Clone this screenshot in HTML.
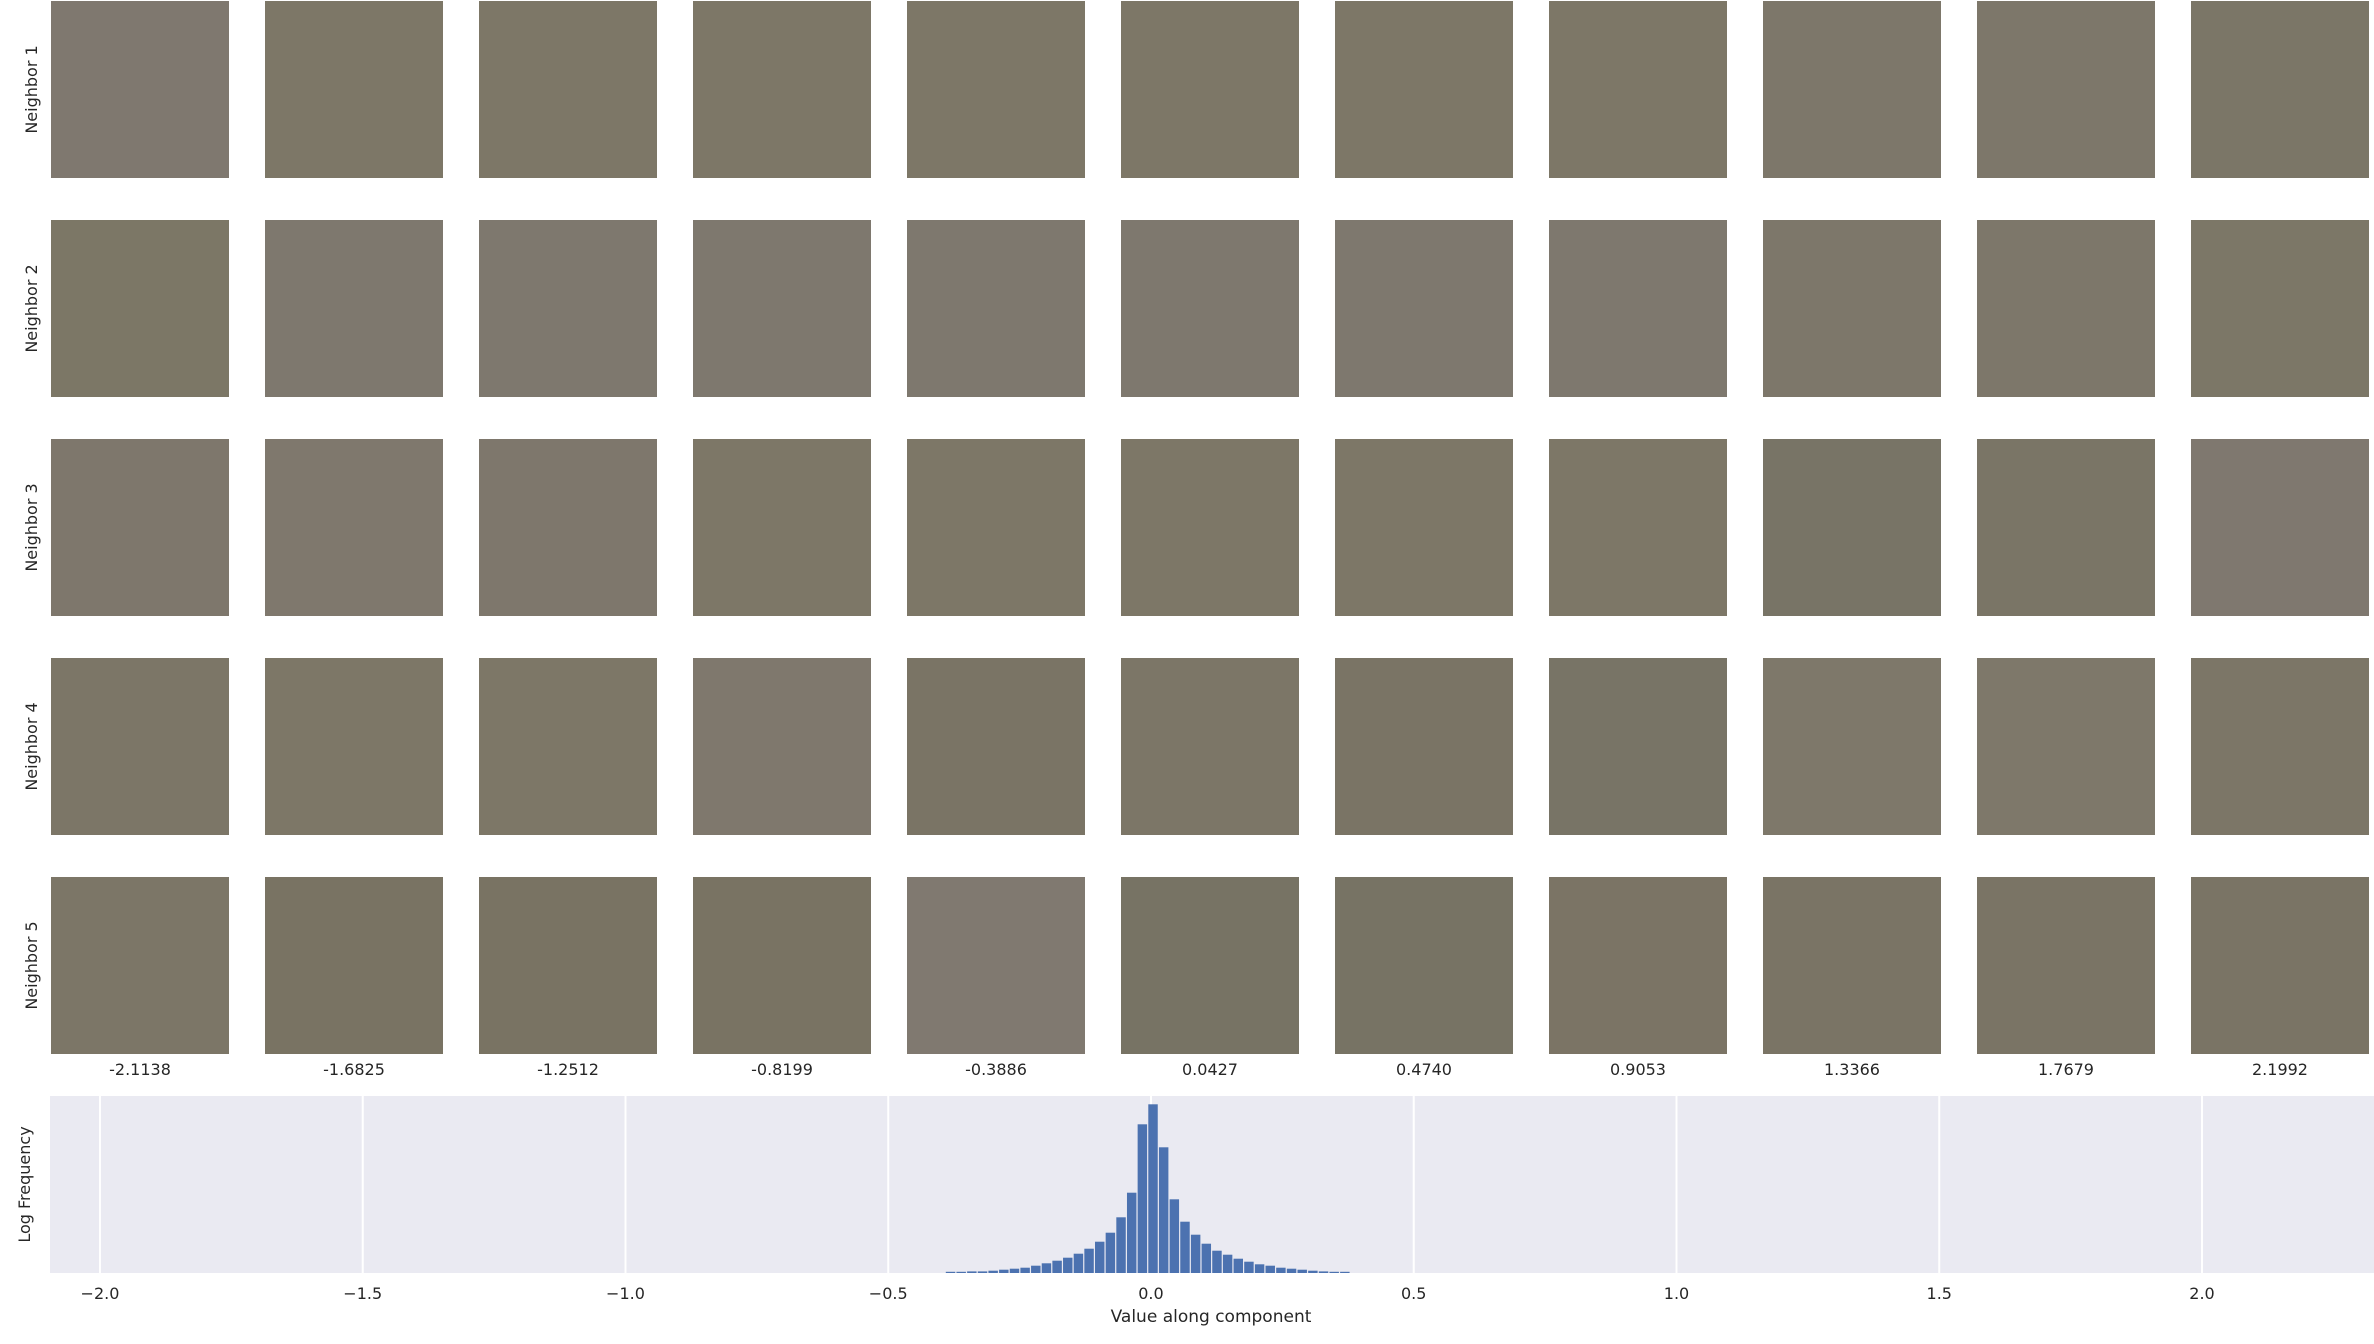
<!DOCTYPE html>
<html><head><meta charset="utf-8">
<style>
html,body{margin:0;padding:0;background:#fff;}
body{width:2374px;height:1344px;position:relative;overflow:hidden;font-family:"DejaVu Sans","Liberation Sans",sans-serif;}
svg{position:absolute;left:0;top:0;}
</style></head>
<body>
<svg id="fig" width="2374" height="1344" xmlns="http://www.w3.org/2000/svg" font-family="DejaVu Sans, Liberation Sans, sans-serif"></svg>
<script>
const colValues = ["-2.1138","-1.6825","-1.2512","-0.8199","-0.3886","0.0427","0.4740","0.9053","1.3366","1.7679","2.1992"];
const rowLabels = ["Neighbor 1","Neighbor 2","Neighbor 3","Neighbor 4","Neighbor 5"];
const tileColors = [
 ["#7f786f","#7d7767","#7d7767","#7d7767","#7d7767","#7d7767","#7d7767","#7d7767","#7d776a","#7d776a","#7b7667"],
 ["#7c7766","#7e786e","#7e786e","#7e786e","#7e786e","#7e786e","#7e786e","#7e786e","#7d776a","#7d776a","#7c7767"],
 ["#7e776c","#7f786d","#7e776c","#7d7767","#7d7767","#7d7767","#7d7767","#7d7767","#787466","#7a7566","#7f786f"],
 ["#7c7667","#7d7767","#7d7767","#7f786d","#7a7465","#7c7667","#7a7465","#787466","#7e786a","#7e786a","#7c7667"],
 ["#7c7667","#797363","#797363","#797363","#807970","#777364","#777364","#7b7465","#7a7465","#7a7465","#7a7465"]
];
const binStart = -0.3916;
const binWidth = 0.02028;
const binHeights = [1.2,1.2,1.6,1.6,2.3,3.3,4.3,5.3,7.3,9.7,12.3,15.3,19.3,24.3,31.3,40.3,55.7,80.3,148.7,168.7,125.7,73.7,51.3,38.3,29.3,22.3,18.3,14.3,11.3,8.7,7.3,5.3,4.3,3.3,2.3,1.6,1.2,1.2];
const xTicks = [-2.0,-1.5,-1.0,-0.5,0.0,0.5,1.0,1.5,2.0];
const xTickLabels = ["\u22122.0","\u22121.5","\u22121.0","\u22120.5","0.0","0.5","1.0","1.5","2.0"];

const NS="http://www.w3.org/2000/svg";
const svg=document.getElementById('fig');
function mk(tag,attrs,parent){const e=document.createElementNS(NS,tag);for(const k in attrs)e.setAttribute(k,attrs[k]);(parent||svg).appendChild(e);return e;}

const tileX0=51, tileY0=1, tileW=178, tileH=177, pitchX=214, pitchY=219;
for(let r=0;r<rowLabels.length;r++){
  const lab=mk('text',{x:0,y:0,'font-size':16,fill:'#262626','text-anchor':'middle',transform:`translate(37,${tileY0+r*pitchY+tileH/2}) rotate(-90)`});
  
  
  lab.textContent=rowLabels[r];
  for(let c=0;c<colValues.length;c++){
    const t=mk('rect',{x:tileX0+c*pitchX,y:tileY0+r*pitchY,width:tileW,height:tileH,fill:tileColors[r][c]});
    
    
  }
}
for(let c=0;c<colValues.length;c++){
  const t=mk('text',{x:tileX0+c*pitchX+tileW/2,y:1075,'font-size':16,fill:'#262626','text-anchor':'middle'});
  
  
  t.textContent=colValues[c];
}

const axL=50, axR=2374, axT=1096, axB=1273;
const xMin=-2.0951, xMax=2.3273, yMax=177;
const xs=v=>axL+(v-xMin)/(xMax-xMin)*(axR-axL);
const ys=v=>axB-(v/yMax)*(axB-axT);
const bg=mk('rect',{x:axL,y:axT,width:axR-axL,height:axB-axT,fill:'#eaeaf2'});


xTicks.forEach((v,i)=>{
  const g=mk('line',{x1:xs(v),x2:xs(v),y1:axT,y2:axB,stroke:'#fff','stroke-width':2});
  
  
  const t=mk('text',{x:xs(v),y:1299,'font-size':16,fill:'#262626','text-anchor':'middle'});
  
  
  t.textContent=xTickLabels[i];
});
binHeights.forEach((h,i)=>{
  const x0=xs(binStart+i*binWidth), x1=xs(binStart+(i+1)*binWidth);
  const b=mk('rect',{x:x0+0.6,y:ys(h),width:x1-x0-1.2,height:axB-ys(h),fill:'#4c72b0'});
  
  
});
const xl=mk('text',{x:1211,y:1322,'font-size':17,fill:'#262626','text-anchor':'middle'});


xl.textContent='Value along component';
const yl=mk('text',{x:0,y:0,'font-size':16,fill:'#262626','text-anchor':'middle',transform:`translate(30,${(axT+axB)/2}) rotate(-90)`});


yl.textContent='Log Frequency';
</script>
</body></html>
